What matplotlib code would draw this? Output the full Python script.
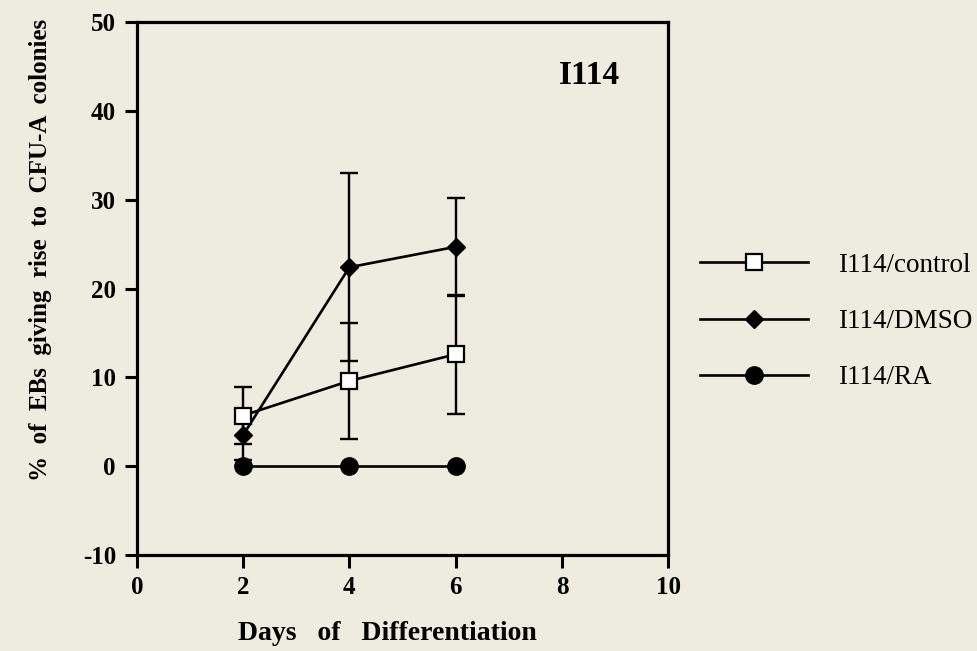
import matplotlib
matplotlib.use("Agg")
import matplotlib.pyplot as plt
from matplotlib.lines import Line2D

days = [2, 4, 6]
control = [5.7, 9.6, 12.6]
control_err = [3.2, 6.5, 6.7]
dmso = [3.5, 22.4, 24.7]
dmso_err = [2.8, 10.6, 5.5]
ra = [0.0, 0.0, 0.0]

xticks = [0, 2, 4, 6, 8, 10]
yticks = [-10, 0, 10, 20, 30, 40, 50]

bg = "#eeebdf"
plt.rcParams['font.family'] = ['Liberation Serif', 'DejaVu Serif']
plt.rcParams['axes.unicode_minus'] = False

fig = plt.figure(figsize=(9.77, 6.51), dpi=100, facecolor=bg)
ax = fig.add_axes([0.140, 0.1475, 0.544, 0.8185])
ax.set_facecolor(bg)

lw = 1.9
ax.errorbar(days, dmso, yerr=dmso_err, fmt='none', ecolor='black', elinewidth=1.7,
            capsize=6.5, capthick=1.7, zorder=2)
ax.errorbar(days, control, yerr=control_err, fmt='none', ecolor='black', elinewidth=1.7,
            capsize=6.5, capthick=1.7, zorder=2)
ax.plot(days, ra, '-o', color='black', lw=lw, markersize=12.5, zorder=3)
ax.plot(days, dmso, '-D', color='black', lw=lw, markersize=9.5, zorder=4)
ax.plot(days, control, '-s', color='black', lw=lw, markersize=11.5, markerfacecolor='white',
        markeredgewidth=1.6, zorder=5)

ax.set_xlim(0, 10)
ax.set_ylim(-10, 50)
ax.set_xticks(xticks)
ax.set_yticks(yticks)
ax.tick_params(direction='out', length=9, width=2.2, labelsize=18, pad=6)
for lab in ax.get_xticklabels() + ax.get_yticklabels():
    lab.set_fontweight('bold')
for s in ax.spines.values():
    s.set_linewidth(2.3)

ax.set_xlabel('Days   of   Differentiation', fontsize=20, fontweight='bold')
ax.xaxis.set_label_coords(0.471, -0.124)
ax.set_ylabel('%  of  EBs  giving  rise  to  CFU-A  colonies', fontsize=18,
              fontweight='bold')
ax.yaxis.set_label_coords(-0.160, 0.572)
ax.text(0.851, 0.90, 'I114', transform=ax.transAxes, fontsize=24, fontweight='bold',
        ha='center', va='center')

handles = [
    Line2D([], [], color='black', lw=lw, marker='s', markersize=11.5,
           markerfacecolor='white', markeredgewidth=1.6),
    Line2D([], [], color='black', lw=lw, marker='D', markersize=9.5),
    Line2D([], [], color='black', lw=lw, marker='o', markersize=12.5),
]
labels = ['I114/control', 'I114/DMSO', 'I114/RA']
fig.legend(handles, labels, loc='center left', bbox_to_anchor=(0.7165, 0.506),
           frameon=False, fontsize=19.5, handlelength=4.0, handletextpad=1.1,
           labelspacing=1.15, borderaxespad=0, borderpad=0)

fig.savefig('out.png', dpi=100, facecolor=bg)
